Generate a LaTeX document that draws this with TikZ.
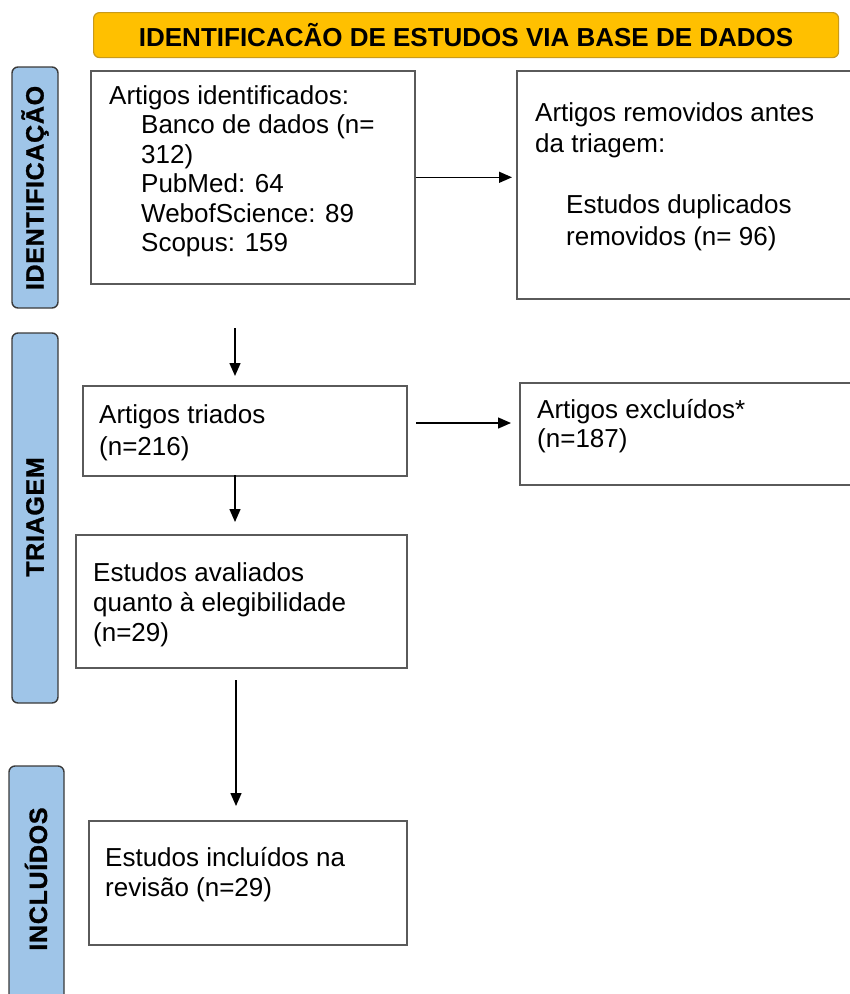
\documentclass[tikz,border=0pt]{standalone}
\usepackage{fontspec}
\setmainfont{Liberation Sans}
\newfontfamily\sidefont[FakeBold=1.2]{Liberation Sans Bold}
\usetikzlibrary{arrows.meta}
\definecolor{bannerfill}{HTML}{FFC000}
\definecolor{bannerdraw}{HTML}{C99A1A}
\definecolor{sidefill}{HTML}{9FC5E8}
\definecolor{sidedraw}{HTML}{3A3A3A}
\definecolor{boxdraw}{HTML}{5A5A5A}
\newcommand\lsp{\kern0.7pt}
\tikzset{
  stepbox/.style={draw=boxdraw, line width=1.6pt, fill=white, rectangle, anchor=north west, inner sep=0pt},
  sidebox/.style={draw=sidedraw, line width=1.4pt, fill=sidefill, rounded corners=6pt},
  sidetext/.style={rotate=90, font=\fontsize{25}{28}\sidefont, inner sep=0pt},
  bodytext/.style={anchor=north west, align=left, inner sep=0pt, font=\fontsize{26}{29.5}\selectfont},
  arr/.style={line width=1.4pt, -{Triangle[length=13pt,width=11pt]}}
}
\begin{document}
\begin{tikzpicture}[x=1pt,y=-1pt]
\useasboundingbox (0,0) rectangle (850,994);
\clip (0,0) rectangle (850,994);
% banner
\node[draw=bannerdraw, line width=1.2pt, fill=bannerfill, rounded corners=6pt,
      minimum width=745pt, minimum height=45pt, anchor=north west, inner sep=0pt,
      font=\fontsize{26}{30}\selectfont\bfseries] (banner) at (93,12) {IDENTIFICACÃO DE ESTUDOS VIA BASE DE DADOS};
% side labels
\draw[sidebox] (12,67) rectangle (58,308);
\node[sidetext] (sid1) at (35,188) {I\lsp D\lsp E\lsp N\lsp T\lsp I\lsp F\lsp I\lsp C\lsp A\lsp Ç\lsp Ã\lsp O};
\draw[sidebox] (12,333) rectangle (58,703);
\node[sidetext] (sid2) at (35,517) {T\lsp R\lsp I\lsp A\lsp G\lsp E\lsp M};
\draw[sidebox] (9,766) rectangle (64,1010);
\node[sidetext] (sid3) at (36,879) {I\lsp N\lsp C\lsp L\lsp U\lsp Í\lsp D\lsp O\lsp S};
% boxes
\node[stepbox, minimum width=324pt, minimum height=213pt] (b1) at (90,70) {};
\node[stepbox, minimum width=340pt, minimum height=228pt] (b2) at (516,70) {};
\node[stepbox, minimum width=324pt, minimum height=90pt] (b3) at (82,385) {};
\node[stepbox, minimum width=340pt, minimum height=102pt] (b4) at (519,382) {};
\node[stepbox, minimum width=331pt, minimum height=133pt] (b5) at (75,534) {};
\node[stepbox, minimum width=318pt, minimum height=124pt] (b6) at (88,820) {};
% texts
\node[bodytext] (t1) at (109,85) {Artigos identificados:\\
\hspace*{32pt}Banco de dados (n=\\
\hspace*{32pt}312)\\
\hspace*{32pt}PubMed: 64\\
\hspace*{32pt}WebofScience: 89\\
\hspace*{32pt}Scopus: 159};
\node[bodytext, font=\fontsize{26}{31}\selectfont] (t2a) at (535,102) {Artigos removidos antes\\da triagem:};
\node[bodytext, font=\fontsize{26}{32}\selectfont] (t2b) at (566,194) {Estudos duplicados\\removidos (n= 96)};
\node[bodytext, font=\fontsize{26}{32}\selectfont] (t3) at (99,404) {Artigos triados\\(n=216)};
\node[bodytext] (t4) at (537,399) {Artigos excluídos*\\(n=187)};
\node[bodytext, font=\fontsize{26}{30}\selectfont] (t5) at (93,562) {Estudos avaliados\\quanto à elegibilidade\\(n=29)};
\node[bodytext, font=\fontsize{26}{30}\selectfont] (t6) at (105,847) {Estudos incluídos na\\revisão (n=29)};
% connectors
\coordinate (c2) at (235,328);
\coordinate (c3) at (416,423);
\coordinate (c4) at (235,475);
\coordinate (c5) at (236,680);
\draw[arr, shorten >=4pt] (b1.east) -- (b2.west |- b1.east);
\draw[arr, shorten >=9pt] (c2) -- (c2 |- b3.north);
\draw[arr, shorten >=8pt] (c3) -- (b4.west |- c3);
\draw[arr, shorten >=12pt] (c4) -- (c4 |- b5.north);
\draw[arr, shorten >=14pt] (c5) -- (c5 |- b6.north);
\end{tikzpicture}
\end{document}
